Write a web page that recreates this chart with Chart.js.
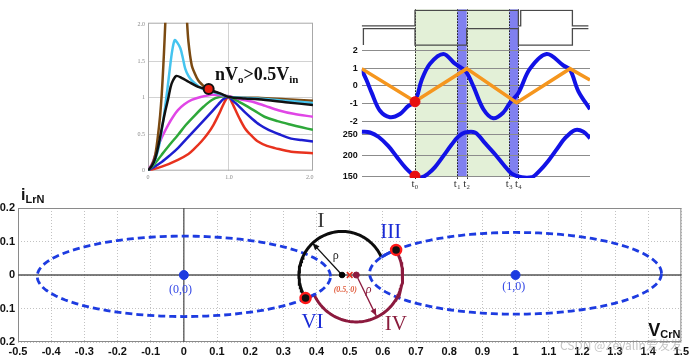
<!DOCTYPE html>
<html>
<head>
<meta charset="utf-8">
<script src="https://cdn.jsdelivr.net/npm/chart.js@4.4.1/dist/chart.umd.min.js"></script>
<style>
  html, body { margin: 0; padding: 0; background: #fff; }
  body { width: 692px; height: 359px; position: relative; overflow: hidden; }
  .box { position: absolute; }
</style>
</head>
<body>
<div class="box" style="left:0;top:183px;width:692px;height:176px"><canvas id="plane"></canvas></div>
<div class="box" style="left:126px;top:16px;width:192px;height:170px"><canvas id="gain"></canvas></div>
<div class="box" style="left:338px;top:0;width:256px;height:192px"><canvas id="wave"></canvas></div>
<script>
// ---- top left: gain curves (normalized frequency, gain) ----
const gainTickX = [0, 1, 2];
const gainTickXLabels = ['0', '1.0', '2.0'];
const gainTickY = [0, 0.5, 1, 1.5, 2];
const gainTickYLabels = ['0', '0.5', '1', '1.5', '2.0'];

const redCurve = [[0,0],[0.17,0.055],[0.37,0.15],[0.5,0.23],[0.58,0.31],[0.66,0.4],[0.74,0.51],[0.81,0.63],[0.87,0.76],[0.92,0.88],[0.96,0.97],[1.0,1.01],[1.04,0.93],[1.07,0.86],[1.13,0.72],[1.2,0.58],[1.28,0.48],[1.36,0.40],[1.47,0.34],[1.57,0.31],[1.77,0.26],[2.04,0.24]];
const blueCurve = [[0,0],[0.17,0.12],[0.27,0.21],[0.37,0.31],[0.47,0.43],[0.58,0.56],[0.69,0.69],[0.79,0.81],[0.87,0.91],[0.93,0.98],[1.0,1.01],[1.05,0.96],[1.11,0.90],[1.2,0.80],[1.28,0.72],[1.38,0.63],[1.49,0.56],[1.62,0.5],[1.77,0.44],[1.9,0.42],[2.04,0.40]];
const greenCurve = [[0,0],[0.08,0.09],[0.17,0.22],[0.27,0.36],[0.37,0.49],[0.47,0.63],[0.58,0.76],[0.69,0.88],[0.79,0.97],[0.88,1.01],[1.0,1.02],[1.1,0.96],[1.2,0.90],[1.32,0.82],[1.44,0.74],[1.6,0.68],[1.77,0.63],[1.9,0.595],[2.04,0.56]];
const magentaCurve = [[0,0],[0.06,0.12],[0.13,0.35],[0.19,0.5],[0.25,0.63],[0.31,0.74],[0.37,0.83],[0.45,0.91],[0.54,0.97],[0.65,1.01],[0.79,1.04],[0.92,1.03],[1.0,1.02],[1.14,0.98],[1.28,0.95],[1.45,0.89],[1.61,0.83],[1.8,0.78],[2.04,0.74]];
const blackCurve = [[0,0],[0.05,0.07],[0.09,0.17],[0.13,0.35],[0.17,0.58],[0.21,0.8],[0.25,0.99],[0.28,1.15],[0.31,1.24],[0.35,1.30],[0.42,1.27],[0.5,1.22],[0.62,1.15],[0.75,1.11],[0.89,1.06],[1.0,1.01],[1.2,0.99],[1.36,0.98],[1.7,0.94],[2.04,0.9]];
const cyanCurve = [[0,0],[0.07,0.1],[0.13,0.31],[0.17,0.55],[0.21,0.86],[0.24,1.12],[0.27,1.40],[0.3,1.65],[0.33,1.79],[0.36,1.76],[0.4,1.68],[0.43,1.55],[0.46,1.40],[0.5,1.30],[0.54,1.24],[0.6,1.18],[0.66,1.13],[0.75,1.1],[0.89,1.05],[1.0,1.01],[1.36,0.99],[1.7,0.96],[2.04,0.93]];
const brownLeft = [[0,0],[0.05,0.08],[0.09,0.22],[0.12,0.45],[0.15,0.76],[0.17,1.05],[0.19,1.45],[0.205,1.8],[0.22,2.2],[0.23,2.6]];
const brownRight = [[0.46,2.6],[0.48,2.1],[0.5,1.77],[0.54,1.45],[0.58,1.33],[0.62,1.24],[0.67,1.18],[0.72,1.13],[0.8,1.09],[0.9,1.05],[1.0,1.01],[1.36,1.0],[1.7,0.98],[2.04,0.96]];
const gainMarker = [[0.75, 1.12]];

// ---- top right: waveforms ----
const tValues = [53.3, 95.6, 105, 147.6, 156.7];
const tLabels = ['t\u2080', 't\u2081', 't\u2082', 't\u2083', 't\u2084'];
const gateATime = [0, 53.3, 53.3, 156.7, 156.7, 159, 159, 210.7, 210.7, 226.7];
const gateALevel = [2.3, 2.3, 3.9, 3.9, 2.3, 2.3, 3.9, 3.9, 2.3, 2.3];
const gateBTime = [1.7, 1.7, 53.3, 53.3, 105, 105, 156.7, 156.7, 210.7, 210.7, 226.7];
const gateBLevel = [0.3, 2.0, 2.0, 0.3, 0.3, 2.0, 2.0, 0.3, 0.3, 2.0, 2.0];
const currentTime = [0, 5, 10, 18.3, 28.3, 38.3, 46.7, 53.3, 60, 68.3, 81.7, 93.3, 100, 105, 111.7, 121.7, 131.7, 141.7, 148.3, 156.7, 168.3, 185, 201.7, 208.3, 216.7, 228.3];
const currentValue = [0.92, 0.3, -0.4, -1.41, -1.77, -1.59, -1.13, -0.91, 0.33, 1.25, 1.8, 1.25, 1.0, 0.75, -0.03, -1.32, -1.83, -1.5, -0.95, -0.4, 0.97, 1.8, 1.15, 0.92, -0.31, -1.32];
const triTime = [0, 53.3, 105, 155, 208.3, 228.3];
const triValue = [0.97, -0.88, 0.97, -0.95, 0.97, 0.33];
const voltTime = [0, 8.3, 17, 26.7, 35, 43.3, 53.3, 60, 66, 73.3, 81.7, 90, 96.7, 103.3, 113.3, 123.3, 133.3, 141.7, 150, 160, 170, 178.3, 186.7, 195, 203.3, 213.3, 221.7, 228.3];
const voltValue = [258, 256, 245, 222.7, 197, 171.8, 150, 147, 155, 171.8, 199, 226.7, 246, 256, 256, 230, 203, 178, 156, 147, 147, 164, 187.5, 215, 242, 262, 258, 242];
const midTicks = [2, 1, 0, -1, -2];
const midTickLabels = ['2', '1', '0', '-1', '-2'];
const lowTicks = [250, 200, 150];
const lowTickLabels = ['250', '200', '150'];
const t0Current = [[53.3, -0.9]];
const t0Voltage = [[53.3, 150]];

// ---- bottom: state plane ----
const planeXTicks = [-0.5,-0.4,-0.3,-0.2,-0.1,0,0.1,0.2,0.3,0.4,0.5,0.6,0.7,0.8,0.9,1,1.1,1.2,1.3,1.4,1.5];
const planeXLabels = ['-0.5','-0.4','-0.3','-0.2','-0.1','0','0.1','0.2','0.3','0.4','0.5','0.6','0.7','0.8','0.9','1','1.1','1.2','1.3','1.4','1.5'];
const planeYTicks = [0.2, 0.1, 0, -0.1, -0.2];
const planeYLabels = ['0.2', '0.1', '0', '-0.1', '-0.2'];
// ellipses: [cx, cy, rx, ry]
const leftEllipse = [0, -0.004, 0.442, 0.12];
const rightEllipse = [1, 0.005, 0.44, 0.122];
// arcs: [cx, cy, r, fromDeg, toDeg]
const blackArc = [0.477, 0, 0.13, 211, 25];
const redArc = [0.52, 0, 0.14, 32, -154];
const solidOnRight = [157, 145];
const solidOnLeft = [-26.5, -34];
const ellipseCenters = [[0, 0], [1, 0]];
const junctions = [[0.367, -0.069], [0.64, 0.075]];
const blackCenter = [[0.477, 0]];
const redCenter = [[0.52, 0]];
const midMark = [[0.5, 0]];
const arrowBlack = [[0.477, 0], [0.388, 0.095]];
const arrowRed = [[0.52, 0], [0.58, -0.122]];

Chart.defaults.animation = false;
Chart.defaults.plugins.legend.display = false;
Chart.defaults.plugins.tooltip.enabled = false;
Chart.defaults.events = [];

const xy = pairs => pairs.map(p => ({x: p[0], y: p[1]}));
const zip = (xs, ys) => xs.map((x, i) => ({x, y: ys[i]}));
function ellipsePts(e, fromDeg, toDeg, steps) {
  const out = [];
  for (let i = 0; i <= steps; i++) {
    const a = (fromDeg + (toDeg - fromDeg) * i / steps) * Math.PI / 180;
    out.push({x: e[0] + e[2] * Math.cos(a), y: e[1] + e[3] * Math.sin(a)});
  }
  return out;
}
const arcPts = (c, steps) => ellipsePts([c[0], c[1], c[2], c[2]], c[3], c[4], steps);

const framePlugin = {
  id: 'frame',
  beforeDatasetsDraw(chart, args, opts) {
    if (!opts.color) return;
    const {left, top, right, bottom} = chart.chartArea;
    const c = chart.ctx;
    c.save();
    c.strokeStyle = opts.color;
    c.lineWidth = 1;
    c.strokeRect(left + 0.5, top + 0.5, right - left - 1, bottom - top - 1);
    if (opts.zero) {
      const x0 = chart.scales.x.getPixelForValue(0), y0 = chart.scales.y.getPixelForValue(0);
      c.strokeStyle = opts.zero;
      c.lineWidth = 1.3;
      c.beginPath();
      c.moveTo(x0, top); c.lineTo(x0, bottom);
      c.moveTo(left, y0); c.lineTo(right, y0);
      c.stroke();
    }
    c.restore();
  }
};

const textPlugin = {
  id: 'texts',
  afterDatasetsDraw(chart, args, opts) {
    const {ctx, scales} = chart;
    (opts.items || []).forEach(it => {
      const px = it.px !== undefined ? it.px : scales.x.getPixelForValue(it.x);
      const py = it.py !== undefined ? it.py : scales.y.getPixelForValue(it.y);
      ctx.save();
      ctx.fillStyle = it.color;
      ctx.textBaseline = 'middle';
      let w = 0;
      it.parts.forEach(p => { ctx.font = p[1]; w += ctx.measureText(p[0]).width; });
      let cx = it.align === 'left' ? px : px - w / 2;
      it.parts.forEach(p => {
        ctx.font = p[1];
        ctx.fillText(p[0], cx, py + (p[2] || 0));
        cx += ctx.measureText(p[0]).width;
      });
      ctx.restore();
    });
  }
};

const arrowPlugin = {
  id: 'arrowHeads',
  afterDatasetsDraw(chart) {
    const ctx = chart.ctx;
    chart.data.datasets.forEach((ds, i) => {
      if (!ds.arrowHead) return;
      const pts = chart.getDatasetMeta(i).data;
      const a = pts[pts.length - 2], b = pts[pts.length - 1];
      const ang = Math.atan2(b.y - a.y, b.x - a.x);
      const len = 7, half = 3;
      ctx.save();
      ctx.fillStyle = ds.borderColor;
      ctx.beginPath();
      ctx.moveTo(b.x, b.y);
      ctx.lineTo(b.x - len * Math.cos(ang) + half * Math.sin(ang), b.y - len * Math.sin(ang) - half * Math.cos(ang));
      ctx.lineTo(b.x - len * Math.cos(ang) - half * Math.sin(ang), b.y - len * Math.sin(ang) + half * Math.cos(ang));
      ctx.closePath();
      ctx.fill();
      ctx.restore();
    });
  }
};

// shaded intervals under the waveforms, plus the dotted t-markers over them
const bandPlugin = {
  id: 'bands',
  beforeDraw(chart, args, opts) {
    const {ctx, chartArea, scales} = chart;
    (opts.items || []).forEach(b => {
      const x1 = scales.x.getPixelForValue(b.from), x2 = scales.x.getPixelForValue(b.to);
      ctx.save();
      ctx.fillStyle = b.color;
      ctx.fillRect(x1, chartArea.top, x2 - x1, chartArea.bottom - chartArea.top - 1);
      ctx.restore();
    });
  },
  beforeDatasetsDraw(chart, args, opts) {
    const {ctx, chartArea, scales} = chart;
    (opts.markers || []).forEach(v => {
      const x = Math.round(scales.x.getPixelForValue(v)) + 0.5;
      ctx.save();
      ctx.strokeStyle = '#111';
      ctx.lineWidth = 1;
      ctx.setLineDash([1.5, 1.5]);
      ctx.beginPath();
      ctx.moveTo(x, chartArea.top);
      ctx.lineTo(x, chartArea.bottom + 1);
      ctx.stroke();
      ctx.restore();
    });
  }
};

const line = (data, color, width, extra) => Object.assign({
  data, borderColor: color, borderWidth: width, showLine: true, pointRadius: 0, tension: 0.3, fill: false
}, extra || {});
const dots = (data, bg, radius, extra) => Object.assign({
  data, backgroundColor: bg, borderColor: bg, pointRadius: radius, showLine: false
}, extra || {});

// ---------- gain chart ----------
new Chart(document.getElementById('gain'), {
  type: 'scatter',
  data: {
    datasets: [
      dots(xy(gainMarker), '#e8200e', 5, {borderColor: '#111', pointBorderWidth: 2}),
      line(xy(blackCurve), '#111111', 2.5),
      line(xy(cyanCurve), '#45c4ef', 2.5),
      line(xy(brownLeft), '#7b4a12', 2.5),
      line(xy(brownRight), '#7b4a12', 2.5),
      line(xy(magentaCurve), '#e046e6', 2.5),
      line(xy(greenCurve), '#2ea83a', 2.5),
      line(xy(blueCurve), '#1e1ed0', 2.5),
      line(xy(redCurve), '#e8321e', 2.5)
    ]
  },
  options: {
    responsive: true, maintainAspectRatio: false,
    layout: {autoPadding: false, padding: {top: 6.7, right: 5, left: 0, bottom: 0}},
    scales: {
      x: {
        type: 'linear', min: 0, max: 2.04,
        afterBuildTicks: s => { s.ticks = gainTickX.map(v => ({value: v})); },
        afterFit: s => { s.height = 15.3; },
        ticks: {callback: (v, i) => gainTickXLabels[i], font: {family: 'Liberation Serif', size: 6}, color: '#888', padding: 3, maxRotation: 0, autoSkip: false},
        grid: {color: c => (c.tick && (c.tick.value === 0 || c.tick.value === 2)) ? 'rgba(0,0,0,0)' : '#d2d2d2', drawTicks: false},
        border: {display: false}
      },
      y: {
        type: 'linear', min: 0, max: 2.03,
        afterBuildTicks: s => { s.ticks = gainTickY.map(v => ({value: v})); },
        afterFit: s => { s.width = 22; },
        ticks: {callback: (v, i) => gainTickYLabels[i], font: {family: 'Liberation Serif', size: 6}, color: '#888', padding: 3, autoSkip: false},
        grid: {color: c => (c.tick && (c.tick.value === 0 || c.tick.value === 2)) ? 'rgba(0,0,0,0)' : '#d2d2d2', drawTicks: false},
        border: {display: false}
      }
    },
    plugins: {
      frame: {color: '#a8a8a8'},
      texts: {items: [
        {x: 0.827, y: 1.31, align: 'left', color: '#111', parts: [
          ['nV', 'bold 18px "Liberation Serif"', 0],
          ['o', 'bold 11px "Liberation Serif"', 5],
          ['>0.5V', 'bold 18px "Liberation Serif"', 0],
          ['in', 'bold 11px "Liberation Serif"', 5]
        ]}
      ]}
    }
  },
  plugins: [framePlugin, textPlugin]
});

// ---------- waveform chart ----------
new Chart(document.getElementById('wave'), {
  type: 'scatter',
  data: {
    datasets: [
      dots(xy(t0Current), '#e81010', 5, {yAxisID: 'ym'}),
      dots(xy(t0Voltage), '#e81010', 5, {yAxisID: 'yb'}),
      line(zip(gateATime, gateALevel), '#4a4a4a', 1.3, {yAxisID: 'yg', tension: 0}),
      line(zip(gateBTime, gateBLevel), '#4a4a4a', 1.3, {yAxisID: 'yg', tension: 0}),
      line(zip(triTime, triValue), '#f5961e', 3.5, {yAxisID: 'ym', tension: 0}),
      line(zip(currentTime, currentValue), '#1212e6', 4, {yAxisID: 'ym', tension: 0.35}),
      line(zip(voltTime, voltValue), '#1212e6', 4, {yAxisID: 'yb', tension: 0.35})
    ]
  },
  options: {
    responsive: true, maintainAspectRatio: false,
    layout: {autoPadding: false, padding: {top: 3, right: 4, left: 0, bottom: 0}},
    scales: {
      x: {
        type: 'linear', min: 0, max: 228.3,
        afterBuildTicks: s => { s.ticks = tValues.map(v => ({value: v})); },
        afterFit: s => { s.height = 14; },
        ticks: {callback: (v, i) => tLabels[i], font: {family: 'Liberation Serif', size: 11}, color: '#333', padding: 0, maxRotation: 0, autoSkip: false},
        grid: {display: false, drawTicks: false},
        border: {display: false}
      },
      yb: {
        type: 'linear', position: 'left', stack: 'wave', stackWeight: 53, min: 145.3, max: 269.5,
        afterBuildTicks: s => { s.ticks = lowTicks.map(v => ({value: v})); },
        afterFit: s => { s.width = 23.7; },
        ticks: {callback: (v, i) => lowTickLabels[i], font: {family: 'Liberation Sans', size: 9, weight: 'bold'}, color: '#111', padding: 4, autoSkip: false},
        grid: {color: '#8c8c8c', drawTicks: false},
        border: {display: false}
      },
      ym: {
        type: 'linear', position: 'left', stack: 'wave', stackWeight: 82, min: -2.32, max: 2.14,
        afterBuildTicks: s => { s.ticks = midTicks.map(v => ({value: v})); },
        afterFit: s => { s.width = 23.7; },
        ticks: {callback: (v, i) => midTickLabels[i], font: {family: 'Liberation Sans', size: 9, weight: 'bold'}, color: '#111', padding: 4, autoSkip: false},
        grid: {color: '#8c8c8c', drawTicks: false},
        border: {display: false}
      },
      yg: {
        type: 'linear', position: 'left', stack: 'wave', stackWeight: 40, min: 0, max: 4,
        afterFit: s => { s.width = 23.7; },
        ticks: {display: false},
        grid: {display: false, drawTicks: false},
        border: {display: false}
      }
    },
    plugins: {
      bands: {
        items: [
          {from: tValues[0], to: tValues[1], color: '#e3f0d7'},
          {from: tValues[2], to: tValues[3], color: '#e3f0d7'},
          {from: tValues[1], to: tValues[2], color: '#8080f0'},
          {from: tValues[3], to: tValues[4], color: '#8080f0'}
        ],
        markers: tValues
      }
    }
  },
  plugins: [bandPlugin]
});

// ---------- state plane chart ----------
const serif = 'Liberation Serif';
new Chart(document.getElementById('plane'), {
  type: 'scatter',
  data: {
    datasets: [
      dots(xy(midMark), '#e03020', 4, {pointStyle: 'crossRot', pointBorderWidth: 1.6}),
      dots(xy(junctions), '#111', 5, {borderColor: '#ff1a1a', pointBorderWidth: 2.5}),
      dots(xy(blackCenter), '#000', 2.8),
      dots(xy(redCenter), '#8c1a3e', 3),
      dots(xy(ellipseCenters), '#1d3be0', 4.5),
      line(xy(arrowBlack), '#111', 1.3, {tension: 0, arrowHead: true}),
      line(xy(arrowRed), '#8c1a3e', 1.3, {tension: 0, arrowHead: true}),
      line(ellipsePts(rightEllipse, solidOnRight[0], solidOnRight[1], 8), '#1d3be0', 3, {tension: 0}),
      line(ellipsePts(leftEllipse, solidOnLeft[0], solidOnLeft[1], 8), '#1d3be0', 3, {tension: 0}),
      line(arcPts(blackArc, 80), '#0d0d0d', 3, {tension: 0}),
      line(arcPts(redArc, 80), '#8c1a3e', 3, {tension: 0}),
      line(ellipsePts(leftEllipse, 0, 360, 160), '#1d3be0', 2.8, {tension: 0, borderDash: [7, 4]}),
      line(ellipsePts(rightEllipse, 0, 360, 160), '#1d3be0', 2.8, {tension: 0, borderDash: [7, 4]})
    ]
  },
  options: {
    responsive: true, maintainAspectRatio: false,
    layout: {autoPadding: false, padding: {top: 25, right: 9, left: 0, bottom: 0}},
    scales: {
      x: {
        type: 'linear', min: -0.5, max: 1.5,
        afterBuildTicks: s => { s.ticks = planeXTicks.map(v => ({value: v})); },
        afterFit: s => { s.height = 17; },
        ticks: {callback: (v, i) => planeXLabels[i], font: {family: 'Liberation Sans', size: 11, weight: 'bold'}, color: '#111', padding: 3, maxRotation: 0, autoSkip: false},
        grid: {color: '#c2c2c2', drawTicks: false},
        border: {display: false, dash: [1, 2]}
      },
      y: {
        type: 'linear', min: -0.2, max: 0.2,
        afterBuildTicks: s => { s.ticks = planeYTicks.map(v => ({value: v})); },
        afterFit: s => { s.width = 18; },
        ticks: {callback: (v, i) => planeYLabels[i], font: {family: 'Liberation Sans', size: 11, weight: 'bold'}, color: '#111', padding: 3, autoSkip: false},
        grid: {color: '#c2c2c2', drawTicks: false},
        border: {display: false, dash: [1, 2]}
      }
    },
    plugins: {
      frame: {color: '#8a8a8a', zero: '#555'},
      texts: {items: [
        {x: 0.413, y: 0.161, color: '#3c3c3c', parts: [['I', '22px "' + serif + '"']]},
        {x: 0.624, y: 0.127, color: '#1a2bd6', parts: [['III', '21px "' + serif + '"']]},
        {x: 0.388, y: -0.142, color: '#1a2bd6', parts: [['VI', '21px "' + serif + '"']]},
        {x: 0.639, y: -0.147, color: '#8a1c3c', parts: [['IV', '21px "' + serif + '"']]},
        {x: 0.458, y: 0.057, color: '#222', parts: [['\u03c1', '12px "' + serif + '"']]},
        {x: 0.557, y: -0.045, color: '#8a1c3c', parts: [['\u03c1', 'italic 12px "' + serif + '"']]},
        {x: 0.487, y: -0.045, color: '#e05a3a', parts: [['(0.5, 0)', 'italic bold 8px "' + serif + '"']]},
        {x: -0.01, y: -0.043, color: '#3347e6', parts: [['(0,0)', '12px "' + serif + '"']]},
        {x: 0.995, y: -0.035, color: '#3347e6', parts: [['(1,0)', '12px "' + serif + '"']]},
        {x: 1.40, y: -0.168, align: 'left', color: '#111', parts: [
          ['V', 'bold 18px "Liberation Sans"', 0], ['CrN', 'bold 11px "Liberation Sans"', 4]
        ]},
        {px: 21, py: 13, align: 'left', color: '#111', parts: [
          ['i', 'bold 16px "Liberation Sans"', 0], ['LrN', 'bold 11px "Liberation Sans"', 4]
        ]},
        {px: 560, py: 162, align: 'left', color: 'rgba(150,150,150,0.55)', parts: [
          ['CSDN @Zeyalin\u7231\u53d1\u53d1', '12px "Noto Sans CJK SC"']
        ]}
      ]}
    }
  },
  plugins: [framePlugin, textPlugin, arrowPlugin]
});
</script>
</body>
</html>
